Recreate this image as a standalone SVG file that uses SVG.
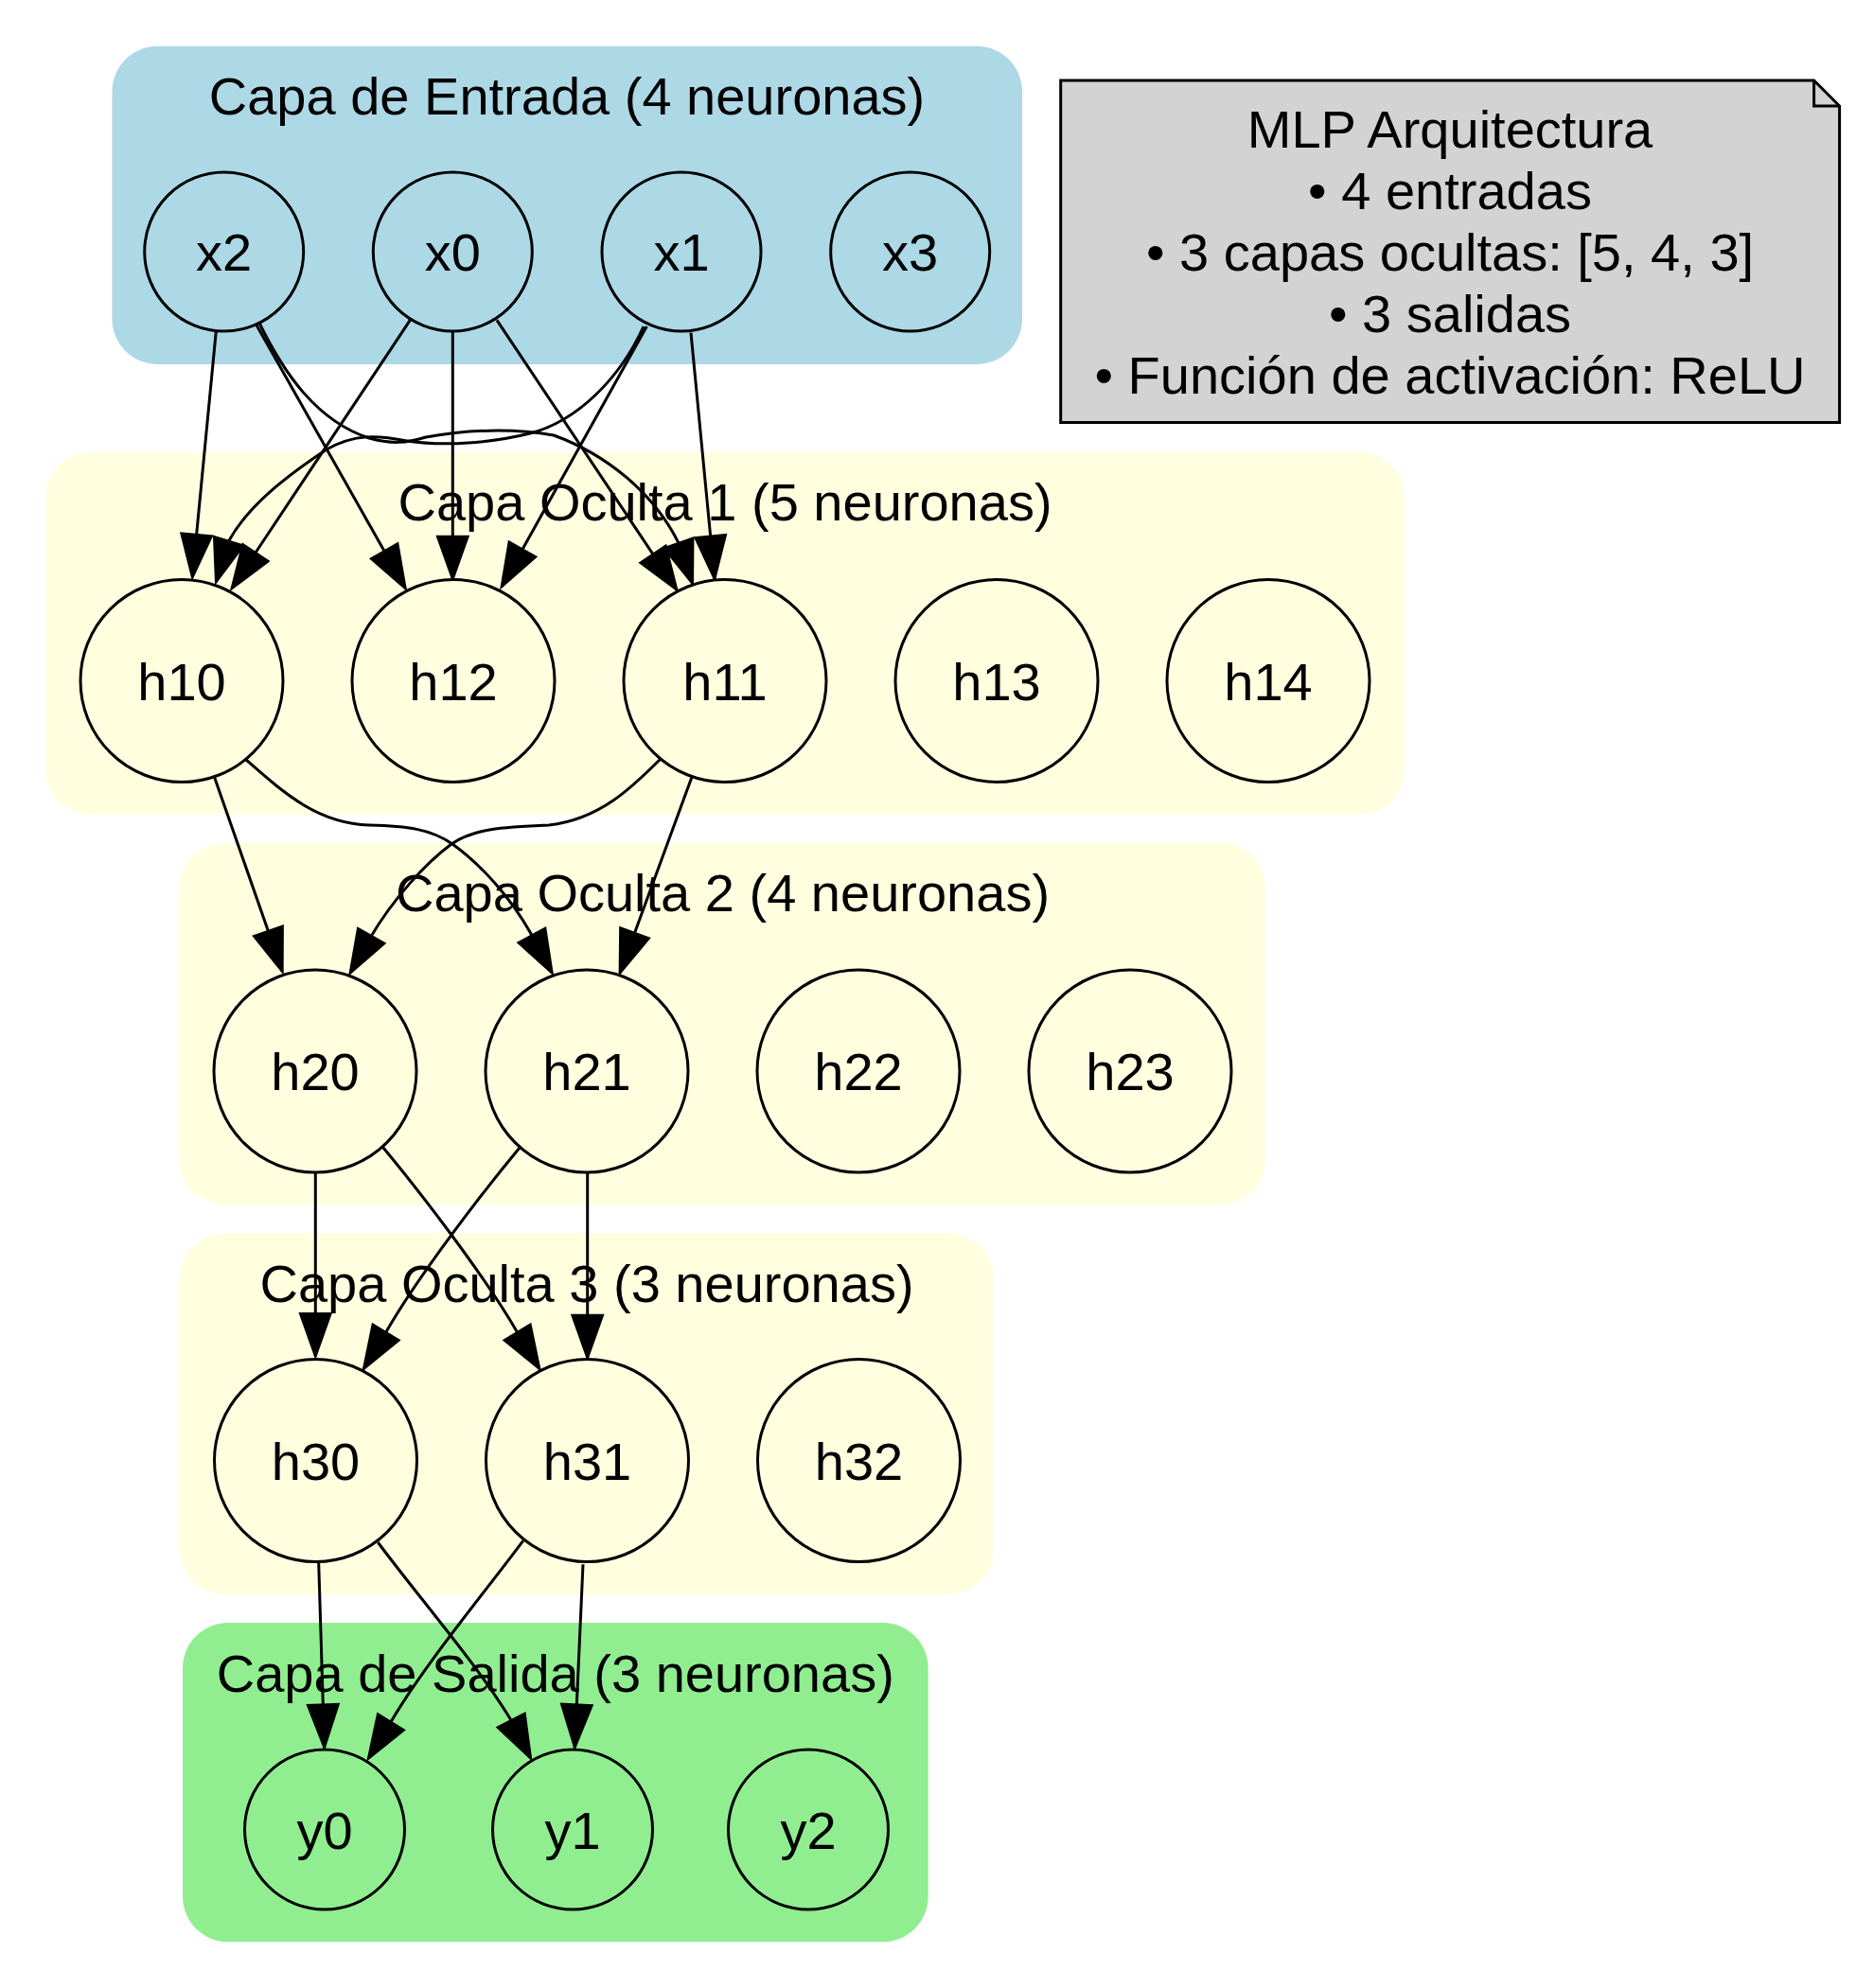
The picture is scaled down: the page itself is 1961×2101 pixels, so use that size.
<svg xmlns="http://www.w3.org/2000/svg" width="1961" height="2101" viewBox="0 0 1961 2101">
<style>
  text { font-family: "Liberation Sans", Arial, sans-serif; font-size: 56px; fill: #000; text-anchor: middle; }
  .cl { stroke: none; }
  .node { stroke: #000; stroke-width: 3; }
  .edge { fill: none; stroke: #000; stroke-width: 3; marker-end: url(#arr); }
  .in { fill: #add8e6; }
  .hid { fill: #ffffe0; }
  .out { fill: #90ee90; }
</style>
<defs>
  <marker id="arr" markerUnits="userSpaceOnUse" markerWidth="60" markerHeight="40" refX="46" refY="20" orient="auto" overflow="visible">
    <path d="M1,4 L46,20 L1,36 Z" fill="#000" stroke="#000" stroke-width="2.67"/>
  </marker>
</defs>
<rect width="1961" height="2101" fill="#fff"/>

<g id="clusters">
  <g id="cluster_input">
    <rect class="cl in" x="118.5" y="48.8" width="961.5" height="336.2" rx="48" ry="48"/>
    <text x="599" y="120.5">Capa de Entrada (4 neuronas)</text>
  </g>
  <g id="cluster_hidden1">
    <rect class="cl hid" x="48" y="477.7" width="1436" height="383" rx="48" ry="48"/>
    <text x="766" y="550">Capa Oculta 1 (5 neuronas)</text>
  </g>
  <g id="cluster_hidden2">
    <rect class="cl hid" x="190" y="890.7" width="1147" height="382.6" rx="48" ry="48"/>
    <text x="763.5" y="962.7">Capa Oculta 2 (4 neuronas)</text>
  </g>
  <g id="cluster_hidden3">
    <rect class="cl hid" x="190" y="1303.3" width="860" height="381.7" rx="48" ry="48"/>
    <text x="620" y="1375.5">Capa Oculta 3 (3 neuronas)</text>
  </g>
  <g id="cluster_output">
    <rect class="cl out" x="193" y="1715" width="787.7" height="337.3" rx="48" ry="48"/>
    <text x="586.8" y="1788.3">Capa de Salida (3 neuronas)</text>
  </g>
</g>

<g id="edges">
  <path class="edge" d="M228.3,350 L203.3,610"/>
  <path class="edge" d="M270,341.7 L428.3,621.7"/>
  <path class="edge" d="M273.3,340 C300,395 335,445 390,463 C415,470 430,468 450,462 C490,455 540,452 585,460 C640,480 690,520 716.7,573.3 L731.7,616.7"/>
  <path class="edge" d="M433.3,338.3 L245,621.7"/>
  <path class="edge" d="M478.3,350 L478.3,612"/>
  <path class="edge" d="M525,338.3 L715,623.3"/>
  <path class="edge" d="M680,345 C655,400 610,445 560,458 C520,468 470,472 430,466 C400,460 375,458 345,475 C300,505 262,535 241.7,571.7 L228.3,615"/>
  <path class="edge" d="M683.3,345 L530,620"/>
  <path class="edge" d="M730,351.7 L755,611.7"/>

  <path class="edge" d="M226.7,821.7 L298.3,1026.7"/>
  <path class="edge" d="M260,803 C300,838 335,870 390,872 C430,873 455,876 478,892 C510,915 540,950 560,985 L583.3,1028.3"/>
  <path class="edge" d="M700,800 C670,830 635,866 580,872 C530,874 500,876 477,892 C450,912 415,950 390,993 L370,1028.3"/>
  <path class="edge" d="M731.7,819.3 L655,1028.3"/>

  <path class="edge" d="M333.3,1239 L333.3,1433.3"/>
  <path class="edge" d="M404,1211.7 C440,1255 510,1345 546.7,1408.3 L570,1446.7"/>
  <path class="edge" d="M550,1211.7 C514,1255 444,1345 408.3,1407 L384.3,1446.7"/>
  <path class="edge" d="M620.7,1239 L620.7,1435"/>

  <path class="edge" d="M336.7,1651.7 L342.7,1846.7"/>
  <path class="edge" d="M399.3,1630 C440,1685 505,1760 540,1818 L560.7,1858.3"/>
  <path class="edge" d="M552.7,1628.3 C512,1683 448,1760 413.3,1819.3 L389.3,1858.3"/>
  <path class="edge" d="M616,1653.3 L607.3,1846.7"/>
</g>

<g id="x2"><circle class="node in" cx="236.7" cy="266" r="84"/><text x="236.7" y="286">x2</text></g>
<g id="x0"><circle class="node in" cx="478.3" cy="266" r="84"/><text x="478.3" y="286">x0</text></g>
<g id="x1"><circle class="node in" cx="720" cy="266" r="84"/><text x="720" y="286">x1</text></g>
<g id="x3"><circle class="node in" cx="961.7" cy="266" r="84"/><text x="961.7" y="286">x3</text></g>

<g id="h10"><circle class="node hid" cx="192" cy="719.5" r="107"/><text x="192" y="739.5">h10</text></g>
<g id="h12"><circle class="node hid" cx="479" cy="719.5" r="107"/><text x="479" y="739.5">h12</text></g>
<g id="h11"><circle class="node hid" cx="766" cy="719.5" r="107"/><text x="766" y="739.5">h11</text></g>
<g id="h13"><circle class="node hid" cx="1053" cy="719.5" r="107"/><text x="1053" y="739.5">h13</text></g>
<g id="h14"><circle class="node hid" cx="1340" cy="719.5" r="107"/><text x="1340" y="739.5">h14</text></g>

<g id="h20"><circle class="node hid" cx="333" cy="1132" r="107"/><text x="333" y="1152">h20</text></g>
<g id="h21"><circle class="node hid" cx="620" cy="1132" r="107"/><text x="620" y="1152">h21</text></g>
<g id="h22"><circle class="node hid" cx="907" cy="1132" r="107"/><text x="907" y="1152">h22</text></g>
<g id="h23"><circle class="node hid" cx="1194" cy="1132" r="107"/><text x="1194" y="1152">h23</text></g>

<g id="h30"><circle class="node hid" cx="333.5" cy="1543.5" r="107"/><text x="333.5" y="1563.5">h30</text></g>
<g id="h31"><circle class="node hid" cx="620.5" cy="1543.5" r="107"/><text x="620.5" y="1563.5">h31</text></g>
<g id="h32"><circle class="node hid" cx="907.5" cy="1543.5" r="107"/><text x="907.5" y="1563.5">h32</text></g>

<g id="y0"><circle class="node out" cx="343" cy="1933.5" r="84.5"/><text x="343" y="1953.5">y0</text></g>
<g id="y1"><circle class="node out" cx="605" cy="1933.5" r="84.5"/><text x="605" y="1953.5">y1</text></g>
<g id="y2"><circle class="node out" cx="854" cy="1933.5" r="84.5"/><text x="854" y="1953.5">y2</text></g>

<g id="info">
  <path d="M1120.7,85 L1916.6,85 L1943.6,112 L1943.6,446.6 L1120.7,446.6 Z" fill="#d3d3d3" stroke="#000" stroke-width="3"/>
  <path d="M1916.6,85 L1916.6,112 L1943.6,112" fill="none" stroke="#000" stroke-width="3"/>
  <text x="1532" y="156">MLP Arquitectura</text>
  <text x="1532" y="221">• 4 entradas</text>
  <text x="1532" y="286">• 3 capas ocultas: [5, 4, 3]</text>
  <text x="1532" y="351">• 3 salidas</text>
  <text x="1532" y="416">• Función de activación: ReLU</text>
</g>
</svg>
